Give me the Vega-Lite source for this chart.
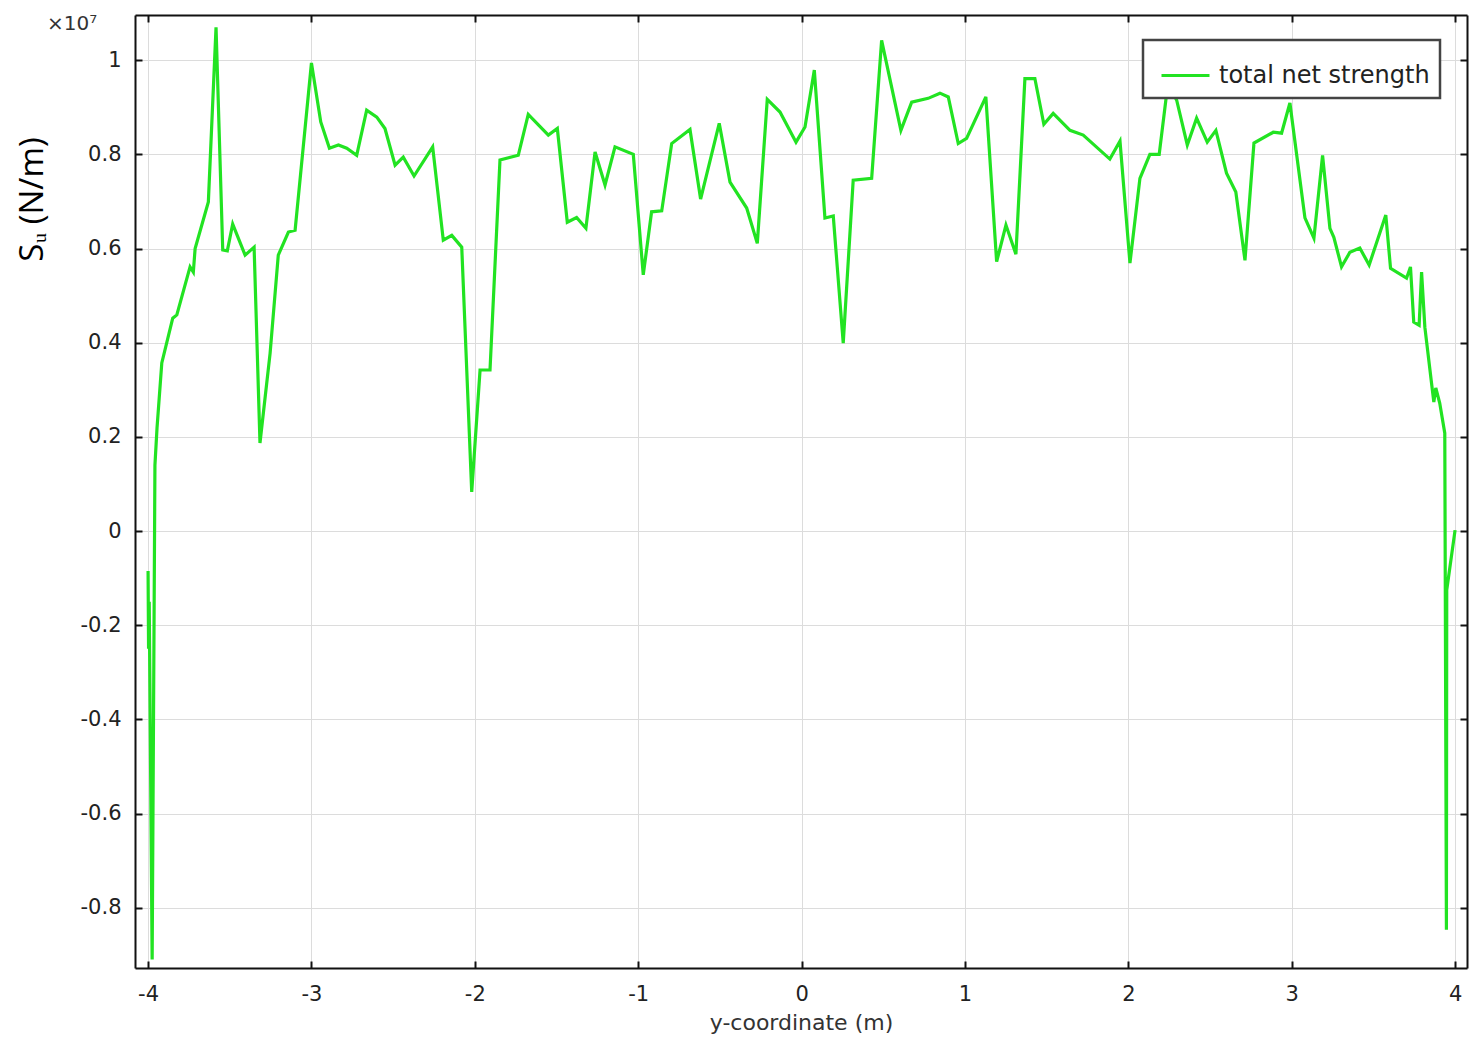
{
  "$schema": "https://vega.github.io/schema/vega-lite/v6.json",
  "autosize": {"type": "none"},
  "padding": {"left": 135, "top": 15, "right": 13, "bottom": 76},
  "width": 1332,
  "height": 953,
  "background": "white",
  "view": {"stroke": null},
  "title": {
    "text": "×10⁷",
    "orient": "top",
    "anchor": "start",
    "frame": "group",
    "offset": 0,
    "dx": -88,
    "dy": 20,
    "font": "DejaVu Sans",
    "fontSize": 20,
    "fontWeight": "normal",
    "color": "#333"
  },
  "data": {
    "values": [
      {"y_m": -4.0, "su": -0.085},
      {"y_m": -3.997, "su": -0.25},
      {"y_m": -3.993, "su": -0.15},
      {"y_m": -3.975, "su": -0.91},
      {"y_m": -3.958, "su": 0.14},
      {"y_m": -3.945, "su": 0.22},
      {"y_m": -3.916, "su": 0.357},
      {"y_m": -3.849, "su": 0.452},
      {"y_m": -3.824, "su": 0.459},
      {"y_m": -3.743, "su": 0.561},
      {"y_m": -3.723, "su": 0.55},
      {"y_m": -3.712, "su": 0.6},
      {"y_m": -3.631, "su": 0.699},
      {"y_m": -3.584, "su": 1.07},
      {"y_m": -3.543, "su": 0.597},
      {"y_m": -3.515, "su": 0.595},
      {"y_m": -3.482, "su": 0.652},
      {"y_m": -3.406, "su": 0.586},
      {"y_m": -3.351, "su": 0.603},
      {"y_m": -3.315, "su": 0.187},
      {"y_m": -3.253, "su": 0.378},
      {"y_m": -3.203, "su": 0.586},
      {"y_m": -3.141, "su": 0.635},
      {"y_m": -3.1, "su": 0.639},
      {"y_m": -3.0, "su": 0.994},
      {"y_m": -2.943, "su": 0.869},
      {"y_m": -2.89, "su": 0.813},
      {"y_m": -2.835, "su": 0.82},
      {"y_m": -2.784, "su": 0.813},
      {"y_m": -2.723, "su": 0.798},
      {"y_m": -2.662, "su": 0.894},
      {"y_m": -2.6, "su": 0.879},
      {"y_m": -2.55, "su": 0.855},
      {"y_m": -2.488, "su": 0.777},
      {"y_m": -2.438, "su": 0.794},
      {"y_m": -2.372, "su": 0.754},
      {"y_m": -2.258, "su": 0.816},
      {"y_m": -2.193, "su": 0.618},
      {"y_m": -2.141, "su": 0.628},
      {"y_m": -2.08, "su": 0.603},
      {"y_m": -2.019, "su": 0.083},
      {"y_m": -1.968, "su": 0.342},
      {"y_m": -1.907, "su": 0.342},
      {"y_m": -1.846, "su": 0.788},
      {"y_m": -1.734, "su": 0.798},
      {"y_m": -1.673, "su": 0.885},
      {"y_m": -1.55, "su": 0.841},
      {"y_m": -1.495, "su": 0.855},
      {"y_m": -1.434, "su": 0.656},
      {"y_m": -1.377, "su": 0.666},
      {"y_m": -1.32, "su": 0.643},
      {"y_m": -1.264, "su": 0.805},
      {"y_m": -1.203, "su": 0.735},
      {"y_m": -1.142, "su": 0.816},
      {"y_m": -1.03, "su": 0.8},
      {"y_m": -0.969, "su": 0.544},
      {"y_m": -0.918, "su": 0.678},
      {"y_m": -0.856, "su": 0.68},
      {"y_m": -0.795, "su": 0.823},
      {"y_m": -0.683, "su": 0.853},
      {"y_m": -0.618, "su": 0.705},
      {"y_m": -0.504, "su": 0.866},
      {"y_m": -0.438, "su": 0.741},
      {"y_m": -0.336, "su": 0.686},
      {"y_m": -0.271, "su": 0.611},
      {"y_m": -0.21, "su": 0.917},
      {"y_m": -0.132, "su": 0.89},
      {"y_m": -0.034, "su": 0.826},
      {"y_m": 0.021, "su": 0.858},
      {"y_m": 0.078, "su": 0.979},
      {"y_m": 0.143, "su": 0.665},
      {"y_m": 0.194, "su": 0.669},
      {"y_m": 0.255, "su": 0.399},
      {"y_m": 0.316, "su": 0.745},
      {"y_m": 0.429, "su": 0.749},
      {"y_m": 0.49, "su": 1.042},
      {"y_m": 0.608, "su": 0.851},
      {"y_m": 0.674, "su": 0.911},
      {"y_m": 0.775, "su": 0.919},
      {"y_m": 0.847, "su": 0.93},
      {"y_m": 0.898, "su": 0.922},
      {"y_m": 0.959, "su": 0.823},
      {"y_m": 1.01, "su": 0.834},
      {"y_m": 1.128, "su": 0.922},
      {"y_m": 1.194, "su": 0.572},
      {"y_m": 1.251, "su": 0.65},
      {"y_m": 1.312, "su": 0.588},
      {"y_m": 1.367, "su": 0.961},
      {"y_m": 1.428, "su": 0.961},
      {"y_m": 1.483, "su": 0.864},
      {"y_m": 1.54, "su": 0.887},
      {"y_m": 1.643, "su": 0.851},
      {"y_m": 1.724, "su": 0.841},
      {"y_m": 1.887, "su": 0.79},
      {"y_m": 1.949, "su": 0.828},
      {"y_m": 2.01, "su": 0.569},
      {"y_m": 2.071, "su": 0.749},
      {"y_m": 2.132, "su": 0.8},
      {"y_m": 2.189, "su": 0.8},
      {"y_m": 2.242, "su": 0.95},
      {"y_m": 2.296, "su": 0.915},
      {"y_m": 2.361, "su": 0.82},
      {"y_m": 2.418, "su": 0.877},
      {"y_m": 2.483, "su": 0.826},
      {"y_m": 2.536, "su": 0.851},
      {"y_m": 2.601, "su": 0.76},
      {"y_m": 2.658, "su": 0.72},
      {"y_m": 2.714, "su": 0.575},
      {"y_m": 2.769, "su": 0.824},
      {"y_m": 2.887, "su": 0.847},
      {"y_m": 2.938, "su": 0.845},
      {"y_m": 2.989, "su": 0.909},
      {"y_m": 3.081, "su": 0.665},
      {"y_m": 3.136, "su": 0.622},
      {"y_m": 3.189, "su": 0.798},
      {"y_m": 3.234, "su": 0.643},
      {"y_m": 3.258, "su": 0.624},
      {"y_m": 3.305, "su": 0.561},
      {"y_m": 3.356, "su": 0.592},
      {"y_m": 3.417, "su": 0.601},
      {"y_m": 3.474, "su": 0.565},
      {"y_m": 3.576, "su": 0.671},
      {"y_m": 3.605, "su": 0.558},
      {"y_m": 3.703, "su": 0.537},
      {"y_m": 3.727, "su": 0.561},
      {"y_m": 3.747, "su": 0.444},
      {"y_m": 3.78, "su": 0.437},
      {"y_m": 3.795, "su": 0.55},
      {"y_m": 3.815, "su": 0.433},
      {"y_m": 3.856, "su": 0.314},
      {"y_m": 3.87, "su": 0.274},
      {"y_m": 3.882, "su": 0.304},
      {"y_m": 3.906, "su": 0.272},
      {"y_m": 3.937, "su": 0.208},
      {"y_m": 3.947, "su": -0.847},
      {"y_m": 3.949, "su": -0.125},
      {"y_m": 4.0, "su": 0.002}
    ]
  },
  "encoding": {
    "x": {
      "field": "y_m",
      "type": "quantitative",
      "scale": {"domain": [-4.08, 4.073], "nice": false, "zero": false}
    },
    "y": {
      "field": "su",
      "type": "quantitative",
      "scale": {"domain": [-0.928, 1.096], "nice": false, "zero": false}
    }
  },
  "layer": [
    {
      "mark": {"type": "line", "strokeWidth": 3.2, "interpolate": "linear"},
      "encoding": {
        "x": {
          "field": "y_m",
          "type": "quantitative",
          "axis": {
            "orient": "bottom",
            "title": "y-coordinate (m)",
            "values": [-4, -3, -2, -1, 0, 1, 2, 3, 4],
            "labelExpr": "(datum.value < 0 ? '-' : '') + format(abs(datum.value), '~g')",
            "labelPadding": 22,
            "titlePadding": 8
          }
        },
        "y": {
          "field": "su",
          "type": "quantitative",
          "axis": {
            "orient": "left",
            "title": "Sᵤ (N/m)",
            "titleFont": "Open Sans",
            "titleFontSize": 33,
            "titleColor": "black",
            "titleAngle": -90,
            "titleX": -103,
            "titleY": 184,
            "titleAlign": "center",
            "titleBaseline": "middle",
            "values": [-0.8, -0.6, -0.4, -0.2, 0, 0.2, 0.4, 0.6, 0.8, 1],
            "labelExpr": "(datum.value < 0 ? '-' : '') + format(abs(datum.value), '~g')",
            "labelPadding": 21
          }
        },
        "color": {
          "datum": "total net strength",
          "type": "nominal",
          "scale": {"range": ["#22e322"]},
          "legend": {
            "orient": "none",
            "legendX": 1008,
            "legendY": 25,
            "title": null,
            "fillColor": "white",
            "strokeColor": "#444",
            "padding": 10,
            "symbolOffset": 7,
            "symbolType": "stroke",
            "symbolSize": 2304,
            "symbolStrokeWidth": 3,
            "labelFont": "DejaVu Sans",
            "labelFontSize": 24,
            "labelColor": "#222",
            "labelLimit": 500,
            "labelOffset": 8
          }
        }
      }
    },
    {
      "mark": {"type": "line", "strokeOpacity": 0},
      "encoding": {
        "x": {
          "field": "y_m",
          "type": "quantitative",
          "axis": {
            "orient": "top",
            "title": null,
            "labels": false,
            "grid": false,
            "values": [-4, -3, -2, -1, 0, 1, 2, 3, 4]
          }
        },
        "y": {
          "field": "su",
          "type": "quantitative",
          "axis": {
            "orient": "right",
            "title": null,
            "labels": false,
            "grid": false,
            "values": [-0.8, -0.6, -0.4, -0.2, 0, 0.2, 0.4, 0.6, 0.8, 1]
          }
        }
      }
    }
  ],
  "resolve": {"axis": {"x": "independent", "y": "independent"}},
  "config": {
    "legend": {"strokeWidth": 2.5},
    "axis": {
      "domainColor": "#111",
      "domainWidth": 2,
      "tickColor": "#111",
      "tickWidth": 2,
      "tickSize": -7,
      "gridColor": "#dcdcdc",
      "gridWidth": 1,
      "labelFont": "DejaVu Sans",
      "labelFontSize": 21,
      "labelColor": "#222",
      "titleFont": "DejaVu Sans",
      "titleFontSize": 22,
      "titleFontWeight": "normal",
      "titleColor": "#333"
    }
  }
}
